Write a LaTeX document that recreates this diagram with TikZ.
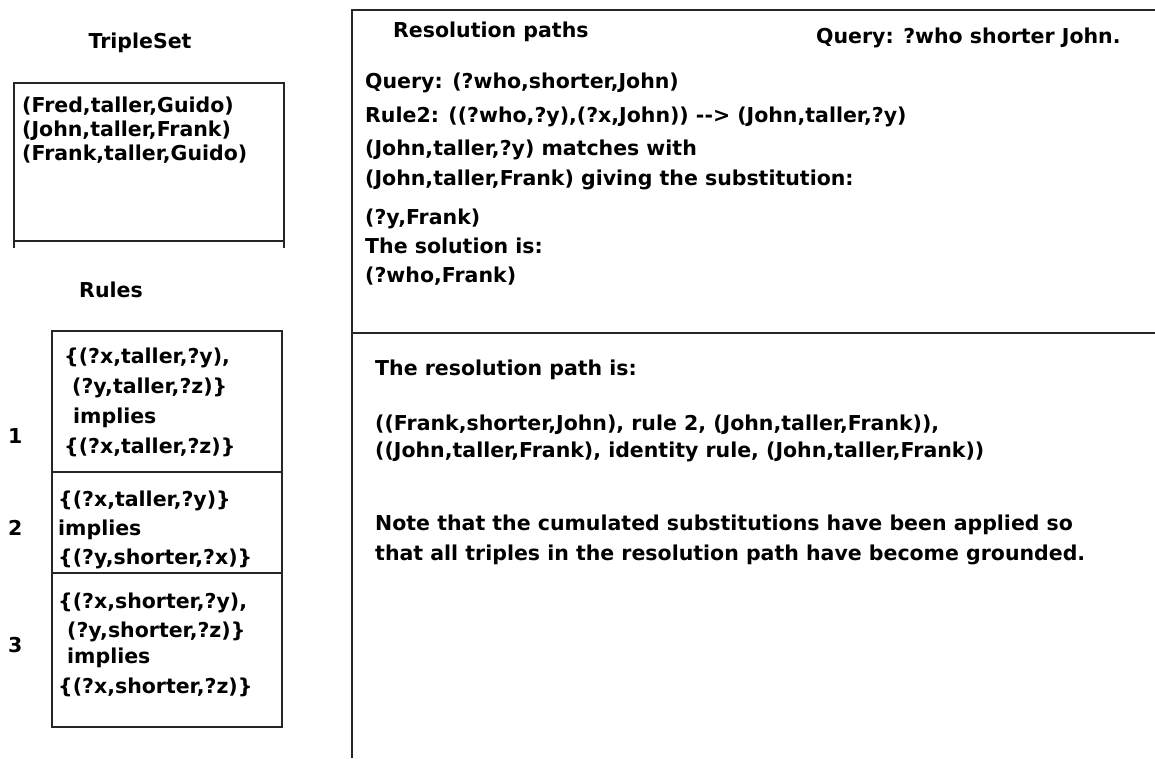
\documentclass[tikz,border=0pt]{standalone}
\usepackage{fontspec}
\setmainfont{DejaVu Sans}
\begin{document}
\begin{tikzpicture}[x=1pt,y=-1pt,
  txt/.style={anchor=base west, inner sep=0pt, font=\bfseries\fontsize{20.5}{24}\selectfont},
  ttl/.style={anchor=base, inner sep=0pt, font=\bfseries\fontsize{20.5}{24}\selectfont},
  frame/.style={line width=1.6pt, draw=black!85}]
\useasboundingbox[fill=white] (0,0) rectangle (1155,758);

% ---- TripleSet panel ----
\node[ttl] (tsTitle) at (140,48) {TripleSet};
\draw[frame] (14,248) -- (14,83) -- (284,83) -- (284,248);
\draw[frame] (14,241) -- (284,241);
\node[txt] (t1) at (22,112) {(Fred,taller,Guido)};
\node[txt] (t2) at (22,136) {(John,taller,Frank)};
\node[txt] (t3) at (22,160) {(Frank,taller,Guido)};

% ---- Rules panel ----
\node[ttl] (rTitle) at (111,297) {Rules};
\draw[frame] (52,331) rectangle (282,727);
\draw[frame] (52,472) -- (282,472);
\draw[frame] (52,573) -- (282,573);

\node[txt] (n1) at (8,443) {1};
\node[txt] (n2) at (8,535) {2};
\node[txt] (n3) at (8,652) {3};

\node[txt] (r1a) at (64,363) {\{(?x,taller,?y),};
\node[txt] (r1b) at (72,393) {(?y,taller,?z)\}};
\node[txt] (r1c) at (73,423) {implies};
\node[txt] (r1d) at (64,453) {\{(?x,taller,?z)\}};

\node[txt] (r2a) at (58,506) {\{(?x,taller,?y)\}};
\node[txt] (r2b) at (58,535) {implies};
\node[txt] (r2c) at (58,564) {\{(?y,shorter,?x)\}};

\node[txt] (r3a) at (58,608) {\{(?x,shorter,?y),};
\node[txt] (r3b) at (67,637) {(?y,shorter,?z)\}};
\node[txt] (r3c) at (67,663) {implies};
\node[txt] (r3d) at (58,693) {\{(?x,shorter,?z)\}};

% ---- Resolution paths panel ----
\draw[frame] (1155,10) -- (352,10) -- (352,758);
\draw[frame] (352,333) -- (1155,333);

\node[txt] (rpTitle) at (393,37) {Resolution paths};
\node[txt] (qTitle) at (816,43) {Query: ?who shorter John.};

\node[txt] (p1) at (365,88) {Query: (?who,shorter,John)};
\node[txt] (p2) at (365,122) {Rule2: ((?who,?y),(?x,John)) -{}-{}> (John,taller,?y)};
\node[txt] (p3) at (365,155) {(John,taller,?y) matches with};
\node[txt] (p4) at (365,185) {(John,taller,Frank) giving the substitution:};
\node[txt] (p5) at (365,224) {(?y,Frank)};
\node[txt] (p6) at (365,253) {The solution is:};
\node[txt] (p7) at (365,282) {(?who,Frank)};

\node[txt] (s1) at (375,375) {The resolution path is:};
\node[txt] (s2) at (375,430) {((Frank,shorter,John), rule 2, (John,taller,Frank)),};
\node[txt] (s3) at (375,457) {((John,taller,Frank), identity rule, (John,taller,Frank))};
\node[txt] (s4) at (375,530) {Note that the cumulated substitutions have been applied so};
\node[txt] (s5) at (375,560) {that all triples in the resolution path have become grounded.};
\end{tikzpicture}
\end{document}
